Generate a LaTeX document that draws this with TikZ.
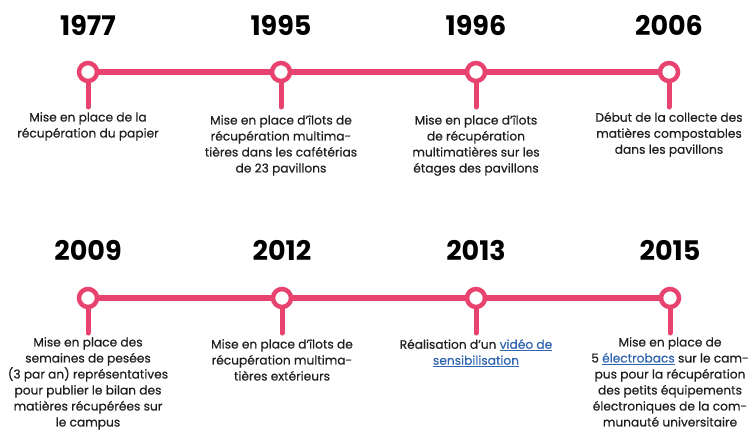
\documentclass[tikz,border=0pt]{standalone}
\usepackage{fontspec}
\setmainfont{Poppins}
\newfontfamily\descfont{Poppins}[FakeBold=0.35]
\definecolor{pinkc}{HTML}{E8426F}
\definecolor{txtc}{HTML}{1E1E1E}
\definecolor{linkc}{HTML}{2F64B0}
\newcommand{\lnk}[1]{\textcolor{linkc}{\underline{#1}}}
\tikzset{
  x=1pt, y=-1pt,
  yearlbl/.style={font=\bfseries\fontsize{27}{28}\selectfont, text=black, inner sep=0pt, anchor=center},
  desc/.style={font=\descfont\fontsize{12.2}{16}\selectfont, text=txtc, align=center, inner sep=0pt, anchor=north},
  dot/.style={circle, draw=pinkc, line width=4.5pt, fill=white, minimum size=18pt, inner sep=0pt},
  axis/.style={draw=pinkc, line width=6pt},
  stem/.style={draw=pinkc, line width=5pt, line cap=round},
}
\begin{document}
\begin{tikzpicture}
\useasboundingbox (0,0) rectangle (749,432);
\fill[white] (0,0) rectangle (749,432);
% row 1
\coordinate (s1) at (88,107);
\coordinate (s2) at (281,107);
\coordinate (s3) at (476,107);
\coordinate (s4) at (669,107);
\draw[axis] (88,72) -- (669,72);
\node[dot] (c1) at (88,72) {};
\node[dot] (c2) at (281,72) {};
\node[dot] (c3) at (476,72) {};
\node[dot] (c4) at (669,72) {};
\draw[stem] (c1.south) -- (s1);
\draw[stem] (c2.south) -- (s2);
\draw[stem] (c3.south) -- (s3);
\draw[stem] (c4.south) -- (s4);
\node[yearlbl] (y1) at (88,25) {1977};
\node[yearlbl] (y2) at (281,25) {1995};
\node[yearlbl] (y3) at (476,25) {1996};
\node[yearlbl] (y4) at (669,25) {2006};
\node[desc] (d1) at (88,112) {Mise en place de la\\récupération du papier};
\node[desc] (d2) at (281,115) {Mise en place d’îlots de\\récupération multima-\\tières dans les cafétérias\\de 23 pavillons};
\node[desc] (d3) at (476,115) {Mise en place d’îlots\\de récupération\\multimatières sur les\\étages des pavillons};
\node[desc] (d4) at (669,112) {Début de la collecte des\\matières compostables\\dans les pavillons};
% row 2
\coordinate (t1) at (88,333);
\coordinate (t2) at (282,333);
\coordinate (t3) at (476,333);
\coordinate (t4) at (670,333);
\draw[axis] (88,298) -- (670,298);
\node[dot] (e1) at (88,298) {};
\node[dot] (e2) at (282,298) {};
\node[dot] (e3) at (476,298) {};
\node[dot] (e4) at (670,298) {};
\draw[stem] (e1.south) -- (t1);
\draw[stem] (e2.south) -- (t2);
\draw[stem] (e3.south) -- (t3);
\draw[stem] (e4.south) -- (t4);
\node[yearlbl] (z1) at (88,250) {2009};
\node[yearlbl] (z2) at (282,250) {2012};
\node[yearlbl] (z3) at (476,250) {2013};
\node[yearlbl] (z4) at (670,250) {2015};
\node[desc] (f1) at (88,337) {Mise en place des\\semaines de pesées\\(3 par an) représentatives\\pour publier le bilan des\\matières récupérées sur\\le campus};
\node[desc] (f2) at (282,339) {Mise en place d’îlots de\\récupération multima-\\tières extérieurs};
\node[desc] (f3) at (476,339) {Réalisation d’un \lnk{vidéo de}\\\lnk{sensibilisation}};
\node[desc] (f4) at (670,337) {Mise en place de\\5 \lnk{électrobacs} sur le cam-\\pus pour la récupération\\des petits équipements\\électroniques de la com-\\munauté universitaire};
\end{tikzpicture}
\end{document}
